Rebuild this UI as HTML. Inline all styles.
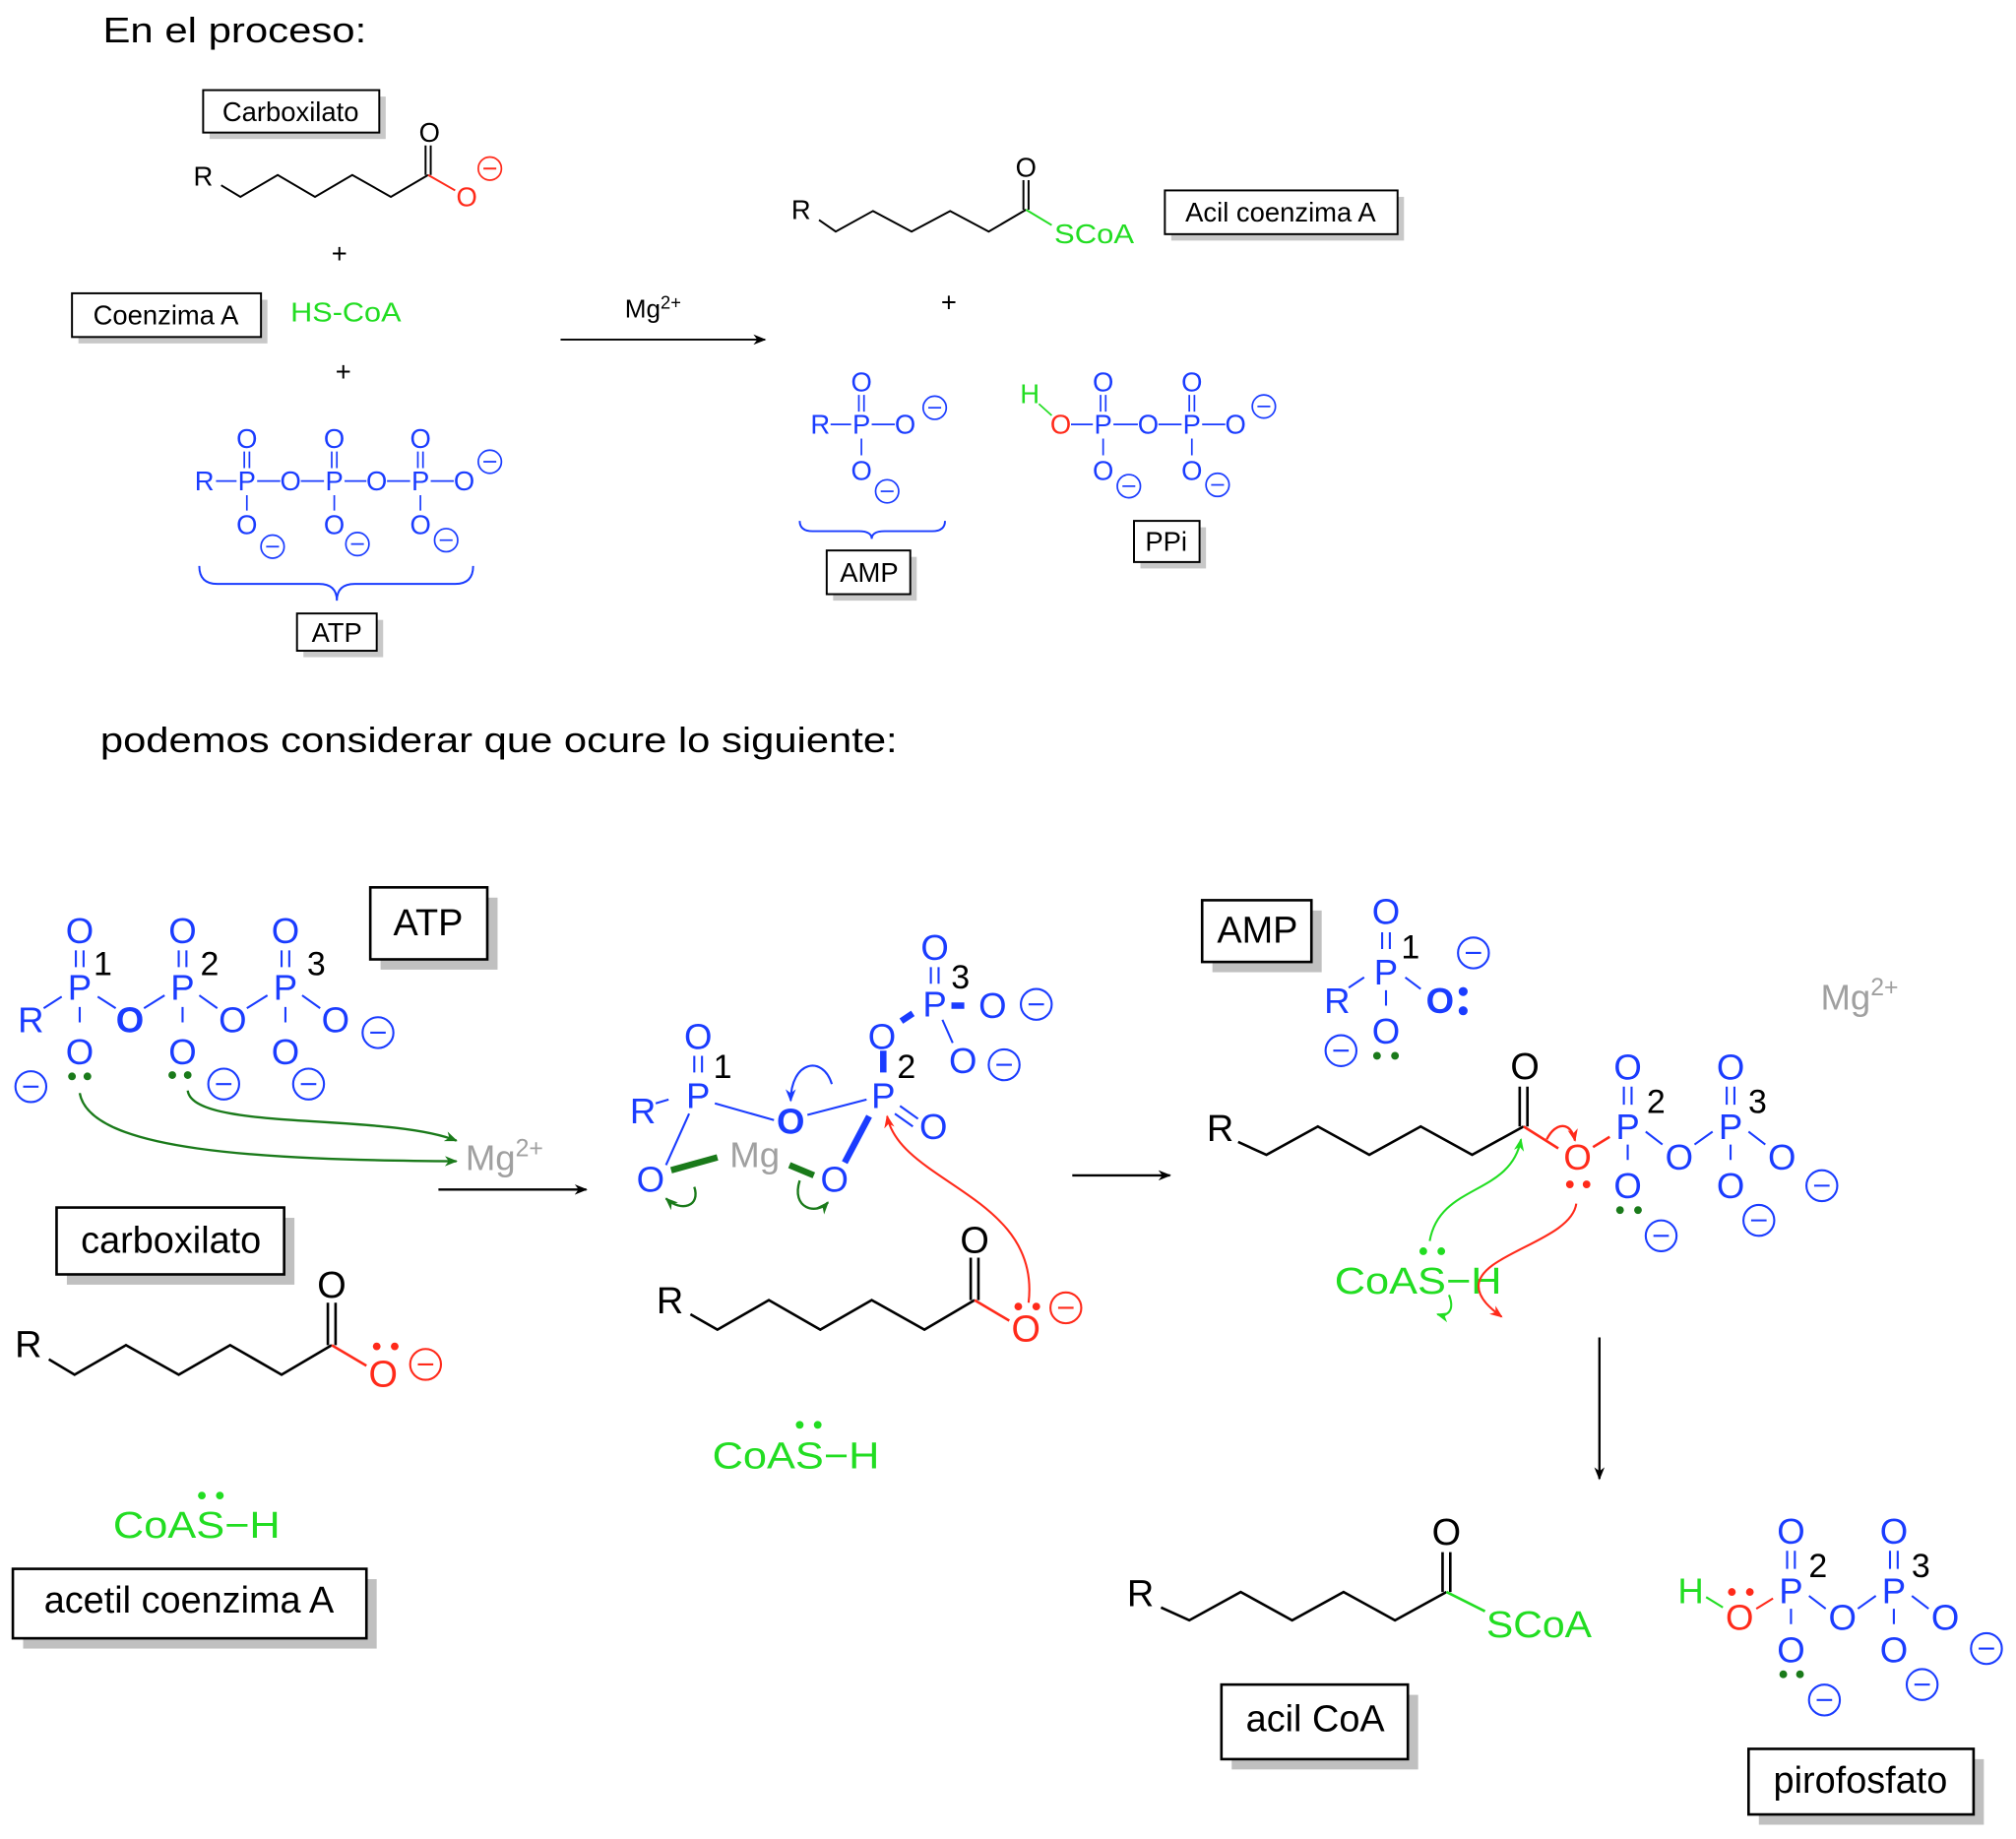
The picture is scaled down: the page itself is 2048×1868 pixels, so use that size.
<!DOCTYPE html>
<html><head><meta charset="utf-8"><style>
html,body{margin:0;padding:0;background:#fff}
svg{display:block}
text{font-family:"Liberation Sans",Arial,sans-serif}
.c{text-anchor:middle;dominant-baseline:central}
.b{fill:#1a3cff}.r{fill:#ff2a1a}.g{fill:#22dd22}.k{fill:#000}.gr{fill:#a0a0a0}
.s{font-size:21px}.L{font-size:29px}
</style></head><body>
<svg width="2048" height="1868" viewBox="0 0 1568 1430" xmlns="http://www.w3.org/2000/svg">
<defs>
<marker id="ak" markerWidth="10" markerHeight="8" refX="9" refY="4" orient="auto" markerUnits="userSpaceOnUse"><path d="M0,0L10,4L0,8L3,4z" fill="#000"/></marker>
<marker id="ag" markerWidth="10" markerHeight="8" refX="9" refY="4" orient="auto" markerUnits="userSpaceOnUse"><path d="M0,0L10,4L0,8L3,4z" fill="#1a7a1a"/></marker>
<marker id="alg" markerWidth="10" markerHeight="8" refX="9" refY="4" orient="auto" markerUnits="userSpaceOnUse"><path d="M0,0L10,4L0,8L3,4z" fill="#22dd22"/></marker>
<marker id="ar" markerWidth="10" markerHeight="8" refX="9" refY="4" orient="auto" markerUnits="userSpaceOnUse"><path d="M0,0L10,4L0,8L3,4z" fill="#ff2a1a"/></marker>
<marker id="ab" markerWidth="10" markerHeight="8" refX="9" refY="4" orient="auto" markerUnits="userSpaceOnUse"><path d="M0,0L10,4L0,8L3,4z" fill="#1a3cff"/></marker>
</defs>

<!-- ===== TOP ===== -->
<text x="80" y="33" font-size="28" textLength="205" lengthAdjust="spacingAndGlyphs">En el proceso:</text>

<g stroke="none" fill="#c8c8c8">
<rect x="163" y="75" width="137" height="33"/>
<rect x="61" y="233" width="147" height="34"/>
<rect x="236" y="482" width="62" height="29"/>
<rect x="911" y="153" width="181" height="34"/>
<rect x="648" y="433" width="65" height="34"/>
<rect x="887" y="410" width="51" height="32"/>
</g>
<g fill="#fff" stroke="#000" stroke-width="1.5">
<rect x="158" y="70" width="137" height="33"/>
<rect x="56" y="228" width="147" height="34"/>
<rect x="231" y="477" width="62" height="29"/>
<rect x="906" y="148" width="181" height="34"/>
<rect x="643" y="428" width="65" height="34"/>
<rect x="882" y="405" width="51" height="32"/>
</g>
<text class="c s" x="226" y="87">Carboxilato</text>
<text class="c s" x="129" y="245">Coenzima A</text>
<text class="c s" x="262" y="492">ATP</text>
<text class="c s" x="996" y="165">Acil coenzima A</text>
<text class="c s" x="676" y="445">AMP</text>
<text class="c s" x="907" y="421">PPi</text>

<text class="c s" x="158" y="137">R</text>
<polyline points="172,144 187,153 216,136 245,153 274,136 304,153 333,136" fill="none" stroke="#000" stroke-width="1.5"/>
<line x1="331" y1="113" x2="331" y2="136" stroke="#000" stroke-width="1.5"/><line x1="335" y1="113" x2="335" y2="136" stroke="#000" stroke-width="1.5"/>
<text class="c s" x="334" y="103">O</text>
<line x1="333" y1="136" x2="354" y2="148" stroke="#ff2a1a" stroke-width="1.5"/>
<text class="c s r" x="363" y="153">O</text>
<circle cx="381" cy="131" r="9" fill="none" stroke="#ff2a1a" stroke-width="1.3"/><line x1="376" y1="131" x2="386" y2="131" stroke="#ff2a1a" stroke-width="1.5"/>

<text class="c s" x="264" y="197">+</text>
<text class="s g" x="226" y="250" textLength="86" lengthAdjust="spacingAndGlyphs">HS-CoA</text>
<text class="c s" x="267" y="289">+</text>

<g class="b" font-size="21">
<text class="c b" x="159" y="374">R</text>
<text class="c b" x="192" y="374">P</text><text class="c b" x="226" y="374">O</text>
<text class="c b" x="260" y="374">P</text><text class="c b" x="293" y="374">O</text>
<text class="c b" x="327" y="374">P</text><text class="c b" x="361" y="374">O</text>
<text class="c b" x="192" y="341">O</text><text class="c b" x="260" y="341">O</text><text class="c b" x="327" y="341">O</text>
<text class="c b" x="192" y="408">O</text><text class="c b" x="260" y="408">O</text><text class="c b" x="327" y="408">O</text>
</g>
<g stroke="#1a3cff" stroke-width="1.3" fill="none">
<path d="M168,374h16M200,374h18M234,374h18M268,374h17M301,374h18M335,374h18"/>
<path d="M190,351v13M194,351v13M258,351v13M262,351v13M325,351v13M329,351v13"/>
<path d="M192,385v12M260,385v12M327,385v12"/>
<circle cx="212" cy="425" r="9"/><circle cx="278" cy="423" r="9"/><circle cx="347" cy="420" r="9"/><circle cx="381" cy="359" r="9"/>
<path d="M207,425h10M273,423h10M342,420h10M376,359h10"/>
<path d="M155,440 q0,14 14,14 h79 q14,0 14,13 q0,-13 14,-13 h78 q14,0 14,-14" stroke-width="1.5"/>
</g>

<line x1="436" y1="264" x2="595" y2="264" stroke="#000" stroke-width="1.5" marker-end="url(#ak)"/>
<text x="486" y="247" font-size="20">Mg<tspan font-size="14" dy="-7">2+</tspan></text>

<text class="c s" x="623" y="163">R</text>
<polyline points="637,171 650,180 679,164 709,180 739,164 769,180 798,163" fill="none" stroke="#000" stroke-width="1.5"/>
<line x1="796" y1="140" x2="796" y2="163" stroke="#000" stroke-width="1.5"/><line x1="800" y1="140" x2="800" y2="163" stroke="#000" stroke-width="1.5"/>
<text class="c s" x="798" y="130">O</text>
<line x1="798" y1="163" x2="818" y2="175" stroke="#22dd22" stroke-width="1.5"/>
<text class="s g" x="820" y="189" textLength="62" lengthAdjust="spacingAndGlyphs">SCoA</text>
<text class="c s" x="738" y="235">+</text>

<text class="c s b" x="638" y="330">R</text><text class="c s b" x="670" y="330">P</text><text class="c s b" x="704" y="330">O</text>
<text class="c s b" x="670" y="297">O</text><text class="c s b" x="670" y="366">O</text>
<g stroke="#1a3cff" stroke-width="1.3" fill="none">
<path d="M646,330h16M678,330h18M668,307v13M672,307v13M670,341v13"/>
<circle cx="727" cy="317" r="9"/><path d="M722,317h10"/>
<circle cx="690" cy="382" r="9"/><path d="M685,382h10"/>
<path d="M622,405 q0,8 10,8 h36 q10,0 10,6 q0,-6 10,-6 h37 q10,0 10,-8" stroke-width="1.5"/>
</g>

<text class="c s g" x="801" y="306">H</text>
<line x1="808" y1="314" x2="818" y2="323" stroke="#22dd22" stroke-width="1.3"/>
<text class="c s r" x="825" y="330">O</text>
<text class="c s b" x="858" y="330">P</text><text class="c s b" x="893" y="330">O</text><text class="c s b" x="927" y="330">P</text><text class="c s b" x="961" y="330">O</text>
<text class="c s b" x="858" y="297">O</text><text class="c s b" x="927" y="297">O</text><text class="c s b" x="858" y="366">O</text><text class="c s b" x="927" y="366">O</text>
<g stroke="#1a3cff" stroke-width="1.3" fill="none">
<path d="M833,330h17M866,330h19M901,330h18M935,330h18M856,307v13M860,307v13M925,307v13M929,307v13M858,341v13M927,341v13"/>
<circle cx="983" cy="316" r="9"/><path d="M978,316h10"/>
<circle cx="878" cy="378" r="9"/><path d="M873,378h10"/>
<circle cx="947" cy="377" r="9"/><path d="M942,377h10"/>
</g>

<text x="78" y="585" font-size="28" textLength="620" lengthAdjust="spacingAndGlyphs">podemos considerar que ocure lo siguiente:</text>

<!-- ===== BOTTOM ===== -->
<g fill="#c0c0c0">
<rect x="296" y="698" width="91" height="56"/>
<rect x="52" y="947" width="177" height="52"/>
<rect x="18" y="1228" width="275" height="54"/>
<rect x="943" y="708" width="85" height="48"/>
<rect x="958" y="1318" width="145" height="58"/>
<rect x="1368" y="1368" width="175" height="51"/>
</g>
<g fill="#fff" stroke="#000" stroke-width="2">
<rect x="288" y="690" width="91" height="56"/>
<rect x="44" y="939" width="177" height="52"/>
<rect x="10" y="1220" width="275" height="54"/>
<rect x="935" y="700" width="85" height="48"/>
<rect x="950" y="1310" width="145" height="58"/>
<rect x="1360" y="1360" width="175" height="51"/>
</g>
<text class="c L" x="333" y="718">ATP</text>
<text class="c L" x="133" y="965">carboxilato</text>
<text class="c L" x="147" y="1245">acetil coenzima A</text>
<text class="c L" x="978" y="724">AMP</text>
<text class="c L" x="1023" y="1337">acil CoA</text>
<text class="c L" x="1447" y="1385">pirofosfato</text>

<g font-size="28">
<text class="c b" x="24" y="793">R</text>
<text class="c b" x="62" y="768">P</text><text class="c b" x="142" y="768">P</text><text class="c b" x="222" y="768">P</text>
<text class="c b" x="62" y="724">O</text><text class="c b" x="142" y="724">O</text><text class="c b" x="222" y="724">O</text>
<text class="c b" x="101" y="793" font-weight="bold">O</text><text class="c b" x="181" y="793">O</text><text class="c b" x="261" y="793">O</text>
<text class="c b" x="62" y="818">O</text><text class="c b" x="142" y="818">O</text><text class="c b" x="222" y="818">O</text>
<text class="c k" x="80" y="750" font-size="26">1</text><text class="c k" x="163" y="750" font-size="26">2</text><text class="c k" x="246" y="750" font-size="26">3</text>
</g>
<g stroke="#1a3cff" stroke-width="1.6" fill="none">
<path d="M59,739v13M65,739v13M139,739v13M145,739v13M219,739v13M225,739v13"/>
<path d="M62,783v12M142,783v12M222,783v12"/>
<path d="M34,784l14,-9M76,775l14,9M112,784l16,-10M155,774l14,10M192,784l16,-10M235,774l14,10"/>
<circle cx="24" cy="845" r="12"/><path d="M18,845h12"/>
<circle cx="174" cy="843" r="12"/><path d="M168,843h12"/>
<circle cx="240" cy="843" r="12"/><path d="M234,843h12"/>
<circle cx="294" cy="803" r="12"/><path d="M288,803h12"/>
</g>
<g fill="#1a7a1a"><circle cx="56" cy="837" r="3"/><circle cx="68" cy="837" r="3"/><circle cx="134" cy="836" r="3"/><circle cx="146" cy="836" r="3"/></g>
<g stroke="#1a7a1a" stroke-width="1.8" fill="none">
<path d="M62,850 C70,895 200,902 355,903" marker-end="url(#ag)"/>
<path d="M146,848 C150,880 300,865 355,887" marker-end="url(#ag)"/>
</g>
<text x="362" y="910" font-size="28" class="gr">Mg<tspan font-size="19" dy="-11">2+</tspan></text>
<line x1="341" y1="925" x2="456" y2="925" stroke="#000" stroke-width="1.8" marker-end="url(#ak)"/>

<text class="c L" x="22" y="1046">R</text>
<polyline points="38,1057 58,1069 98,1046 139,1069 179,1046 219,1069 258,1046" fill="none" stroke="#000" stroke-width="2"/>
<path d="M255,1013v33M261,1013v33" stroke="#000" stroke-width="2"/>
<text class="c L" x="258" y="1000">O</text>
<line x1="258" y1="1046" x2="285" y2="1062" stroke="#ff2a1a" stroke-width="2"/>
<text class="c L r" x="298" y="1069">O</text>
<g fill="#ff2a1a"><circle cx="293" cy="1047" r="3"/><circle cx="307" cy="1047" r="3"/></g>
<circle cx="331" cy="1061" r="12" fill="none" stroke="#ff2a1a" stroke-width="1.6"/><path d="M325,1061h12" stroke="#ff2a1a" stroke-width="1.6"/>
<text class="L g" x="88" y="1196" textLength="130" lengthAdjust="spacingAndGlyphs">CoAS−H</text>
<g fill="#22dd22"><circle cx="157" cy="1163" r="3"/><circle cx="171" cy="1163" r="3"/></g>

<g font-size="28">
<text class="c b" x="500" y="864">R</text>
<text class="c b" x="543" y="852">P</text><text class="c b" x="543" y="806">O</text>
<text class="c k" x="562" y="830" font-size="26">1</text>
<text class="c b" x="615" y="872" font-weight="bold">O</text>
<text class="c b" x="687" y="852">P</text><text class="c k" x="705" y="830" font-size="26">2</text>
<text class="c b" x="726" y="876">O</text>
<text class="c b" x="686" y="806">O</text>
<text class="c b" x="727" y="781">P</text><text class="c k" x="747" y="760" font-size="26">3</text>
<text class="c b" x="727" y="737">O</text>
<text class="c b" x="772" y="782">O</text>
<text class="c b" x="749" y="825">O</text>
<text class="c b" x="506" y="917">O</text>
<text class="c b" x="649" y="917">O</text>
<text class="c gr" x="587" y="898">Mg</text>
</g>
<g stroke="#1a3cff" stroke-width="1.6" fill="none">
<path d="M510,858l10,-3M540,821v13M546,821v13M724,752v13M730,752v13"/>
<path d="M556,858l46,13M628,867l46,-12"/>
<path d="M700,860l14,10M696,866l14,10"/>
<path d="M733,793l8,18"/>
<path d="M536,866l-18,40"/>
<circle cx="806" cy="781" r="12"/><path d="M800,781h12"/>
<circle cx="781" cy="828" r="12"/><path d="M775,828h12"/>
<path d="M647,843 C640,820 615,825 615,856" marker-end="url(#ab)"/>
</g>
<g stroke="#1a3cff" stroke-width="5" fill="none">
<path d="M687,817v17M701,794l9,-6M740,782h10M676,868l-19,36"/>
</g>
<g stroke="#1a7a1a" stroke-width="5"><path d="M522,910l36,-10M614,906l19,8"/></g>
<g stroke="#1a7a1a" stroke-width="1.8" fill="none">
<path d="M540,923 C545,938 530,943 518,932" marker-end="url(#ag)"/>
<path d="M622,918 C615,940 635,945 644,935" marker-end="url(#ag)"/>
</g>
<path d="M800,1013 C810,930 700,920 690,868" stroke="#ff2a1a" stroke-width="1.6" fill="none" marker-end="url(#ar)"/>
<text class="c L" x="521" y="1012">R</text>
<polyline points="537,1022 558,1034 598,1011 638,1034 678,1011 719,1034 758,1011" fill="none" stroke="#000" stroke-width="2"/>
<path d="M755,978v33M761,978v33" stroke="#000" stroke-width="2"/>
<text class="c L" x="758" y="965">O</text>
<line x1="758" y1="1011" x2="785" y2="1027" stroke="#ff2a1a" stroke-width="2"/>
<text class="c L r" x="798" y="1034">O</text>
<g fill="#ff2a1a"><circle cx="792" cy="1016" r="3"/><circle cx="806" cy="1016" r="3"/></g>
<circle cx="829" cy="1017" r="12" fill="none" stroke="#ff2a1a" stroke-width="1.6"/><path d="M823,1017h12" stroke="#ff2a1a" stroke-width="1.6"/>
<text class="L g" x="554" y="1142" textLength="130" lengthAdjust="spacingAndGlyphs">CoAS−H</text>
<g fill="#22dd22"><circle cx="622" cy="1108" r="3"/><circle cx="636" cy="1108" r="3"/></g>

<line x1="834" y1="914" x2="910" y2="914" stroke="#000" stroke-width="1.8" marker-end="url(#ak)"/>

<g font-size="28">
<text class="c b" x="1078" y="709">O</text>
<text class="c b" x="1078" y="756">P</text><text class="c k" x="1097" y="737" font-size="26">1</text>
<text class="c b" x="1040" y="778">R</text>
<text class="c b" x="1120" y="778" font-weight="bold">O</text>
<text class="c b" x="1078" y="802">O</text>
</g>
<g fill="#1a3cff"><circle cx="1138" cy="771" r="3.5"/><circle cx="1138" cy="786" r="3.5"/></g>
<g stroke="#1a3cff" stroke-width="1.6" fill="none">
<path d="M1075,725v13M1081,725v13M1078,770v12M1049,768l12,-8M1093,760l12,9"/>
<circle cx="1146" cy="741" r="12"/><path d="M1140,741h12"/>
<circle cx="1043" cy="817" r="12"/><path d="M1037,817h12"/>
</g>
<g fill="#1a7a1a"><circle cx="1071" cy="821" r="3"/><circle cx="1085" cy="821" r="3"/></g>
<text x="1416" y="785" font-size="28" class="gr">Mg<tspan font-size="19" dy="-11">2+</tspan></text>

<text class="c L" x="949" y="878">R</text>
<polyline points="963,888 985,898 1025,876 1065,898 1105,876 1145,898 1185,876" fill="none" stroke="#000" stroke-width="2"/>
<path d="M1182,845v31M1188,845v31" stroke="#000" stroke-width="2"/>
<text class="c L" x="1186" y="830">O</text>
<line x1="1185" y1="876" x2="1212" y2="893" stroke="#ff2a1a" stroke-width="2"/>
<g font-size="28">
<text class="c r" x="1227" y="900">O</text>
<text class="c b" x="1266" y="876">P</text><text class="c k" x="1288" y="857" font-size="26">2</text>
<text class="c b" x="1266" y="830">O</text>
<text class="c b" x="1306" y="900">O</text>
<text class="c b" x="1346" y="876">P</text><text class="c k" x="1367" y="857" font-size="26">3</text>
<text class="c b" x="1346" y="830">O</text>
<text class="c b" x="1386" y="900">O</text>
<text class="c b" x="1266" y="922">O</text>
<text class="c b" x="1346" y="922">O</text>
</g>
<g stroke="#1a3cff" stroke-width="1.6" fill="none">
<path d="M1263,845v14M1269,845v14M1343,845v14M1349,845v14M1266,890v12M1346,890v12"/>
<path d="M1280,880l13,10M1318,890l14,-10M1360,880l13,10"/>
<circle cx="1417" cy="922" r="12"/><path d="M1411,922h12"/>
<circle cx="1292" cy="961" r="12"/><path d="M1286,961h12"/>
<circle cx="1368" cy="949" r="12"/><path d="M1362,949h12"/>
</g>
<line x1="1239" y1="892" x2="1252" y2="884" stroke="#ff2a1a" stroke-width="2"/>
<g fill="#ff2a1a"><circle cx="1221" cy="921" r="3"/><circle cx="1234" cy="921" r="3"/></g>
<g fill="#1a7a1a"><circle cx="1260" cy="941" r="3"/><circle cx="1274" cy="941" r="3"/></g>
<text class="L g" x="1038" y="1006" textLength="130" lengthAdjust="spacingAndGlyphs">CoAS−H</text>
<g fill="#22dd22"><circle cx="1107" cy="973" r="3"/><circle cx="1121" cy="973" r="3"/></g>
<path d="M1112,965 C1120,920 1175,930 1183,886" stroke="#22dd22" stroke-width="1.6" fill="none" marker-end="url(#alg)"/>
<path d="M1127,1007 C1132,1020 1125,1024 1118,1022" stroke="#22dd22" stroke-width="1.6" fill="none" marker-end="url(#alg)"/>
<path d="M1203,886 C1210,872 1222,872 1225,887" stroke="#ff2a1a" stroke-width="1.8" fill="none" marker-end="url(#ar)"/>
<path d="M1226,936 C1222,965 1150,975 1150,1000 C1150,1010 1160,1018 1168,1024" stroke="#ff2a1a" stroke-width="1.6" fill="none" marker-end="url(#ar)"/>

<line x1="1244" y1="1040" x2="1244" y2="1150" stroke="#000" stroke-width="1.8" marker-end="url(#ak)"/>

<text class="c L" x="887" y="1240">R</text>
<polyline points="903,1250 925,1260 965,1238 1005,1260 1045,1238 1085,1260 1125,1238" fill="none" stroke="#000" stroke-width="2"/>
<path d="M1122,1207v31M1128,1207v31" stroke="#000" stroke-width="2"/>
<text class="c L" x="1125" y="1192">O</text>
<line x1="1125" y1="1238" x2="1155" y2="1253" stroke="#22dd22" stroke-width="2"/>
<text class="L g" x="1156" y="1273" textLength="82" lengthAdjust="spacingAndGlyphs">SCoA</text>

<g font-size="28">
<text class="c g" x="1315" y="1237">H</text>
<text class="c r" x="1353" y="1258">O</text>
<text class="c b" x="1393" y="1237">P</text><text class="c k" x="1414" y="1218" font-size="26">2</text>
<text class="c b" x="1393" y="1191">O</text>
<text class="c b" x="1393" y="1283">O</text>
<text class="c b" x="1433" y="1258">O</text>
<text class="c b" x="1473" y="1237">P</text><text class="c k" x="1494" y="1218" font-size="26">3</text>
<text class="c b" x="1473" y="1191">O</text>
<text class="c b" x="1513" y="1258">O</text>
<text class="c b" x="1473" y="1283">O</text>
</g>
<line x1="1327" y1="1242" x2="1340" y2="1250" stroke="#22dd22" stroke-width="1.6"/>
<line x1="1366" y1="1251" x2="1379" y2="1243" stroke="#ff2a1a" stroke-width="1.6"/>
<g fill="#ff2a1a"><circle cx="1347" cy="1238" r="3"/><circle cx="1361" cy="1238" r="3"/></g>
<g fill="#1a7a1a"><circle cx="1387" cy="1302" r="3"/><circle cx="1400" cy="1302" r="3"/></g>
<g stroke="#1a3cff" stroke-width="1.6" fill="none">
<path d="M1390,1206v14M1396,1206v14M1470,1206v14M1476,1206v14M1393,1251v12M1473,1251v12"/>
<path d="M1407,1241l13,10M1445,1251l14,-10M1487,1241l13,10"/>
<circle cx="1419" cy="1322" r="12"/><path d="M1413,1322h12"/>
<circle cx="1495" cy="1310" r="12"/><path d="M1489,1310h12"/>
<circle cx="1545" cy="1282" r="12"/><path d="M1539,1282h12"/>
</g>
</svg>
</body></html>
